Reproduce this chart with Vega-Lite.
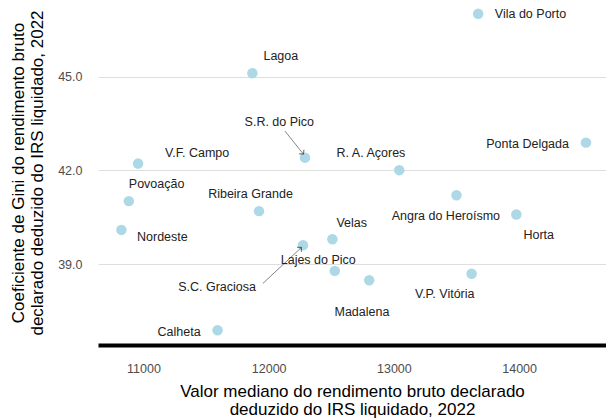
{
  "$schema": "https://vega.github.io/schema/vega-lite/v6.json",
  "width": 508,
  "height": 345,
  "autosize": {"type": "none"},
  "padding": {"left": 98, "top": 0, "right": 0, "bottom": 74},
  "background": "white",
  "config": {"view": {"stroke": null}, "font": "Liberation Sans"},
  "datasets": {
    "pts": [
      {"municipio": "Vila do Porto", "rend": 13673, "gini": 47.01, "lx": 14091, "ly": 46.99},
      {"municipio": "Lagoa", "rend": 11870, "gini": 45.11, "lx": 12097, "ly": 45.66},
      {"municipio": "S.R. do Pico", "rend": 12290, "gini": 42.41, "lx": 12085, "ly": 43.55},
      {"municipio": "V.F. Campo", "rend": 10957, "gini": 42.22, "lx": 11429, "ly": 42.55},
      {"municipio": "R. A. Açores", "rend": 13043, "gini": 42.01, "lx": 12817, "ly": 42.55},
      {"municipio": "Ponta Delgada", "rend": 14534, "gini": 42.89, "lx": 14068, "ly": 42.86},
      {"municipio": "Povoação", "rend": 10883, "gini": 41.02, "lx": 11105, "ly": 41.56},
      {"municipio": "Ribeira Grande", "rend": 11923, "gini": 40.70, "lx": 11855, "ly": 41.24},
      {"municipio": "Angra do Heroísmo", "rend": 13500, "gini": 41.21, "lx": 13415, "ly": 40.54},
      {"municipio": "Horta", "rend": 13978, "gini": 40.59, "lx": 14157, "ly": 39.94},
      {"municipio": "Nordeste", "rend": 10824, "gini": 40.10, "lx": 11151, "ly": 39.87},
      {"municipio": "Velas", "rend": 12509, "gini": 39.80, "lx": 12663, "ly": 40.33},
      {"municipio": "S.C. Graciosa", "rend": 12274, "gini": 39.61, "lx": 11588, "ly": 38.29},
      {"municipio": "Lajes do Pico", "rend": 12528, "gini": 38.79, "lx": 12396, "ly": 39.14},
      {"municipio": "Madalena", "rend": 12803, "gini": 38.49, "lx": 12745, "ly": 37.46},
      {"municipio": "V.P. Vitória", "rend": 13621, "gini": 38.70, "lx": 13406, "ly": 38.06},
      {"municipio": "Calheta", "rend": 11592, "gini": 36.89, "lx": 11285, "ly": 36.83}
    ],
    "arrows": [
      {"municipio": "S.R. do Pico", "ax": 12130, "ay": 43.26, "bx": 12278, "by": 42.52},
      {"municipio": "S.C. Graciosa", "ax": 11954, "ay": 38.39, "bx": 12262, "by": 39.54}
    ]
  },
  "layer": [
    {
      "data": {"name": "pts"},
      "mark": {"type": "circle", "size": 110, "color": "#ADD8E6", "opacity": 1},
      "encoding": {
        "x": {
          "field": "rend", "type": "quantitative",
          "scale": {"domain": [10637, 14694], "nice": false, "zero": false},
          "axis": {
            "title": ["Valor mediano do rendimento bruto declarado", "deduzido do IRS liquidado, 2022"],
            "values": [11000, 12000, 13000, 14000], "format": "d",
            "grid": false, "ticks": false,
            "domainColor": "black", "domainWidth": 4,
            "labelFontSize": 12.5, "labelColor": "#4d4d4d", "labelPadding": 17,
            "titleFontSize": 17, "titleFontWeight": "normal", "titleColor": "black",
            "titleLineHeight": 18, "titleY": 51.5, "titleX": 254, "titleBaseline": "alphabetic", "titleAlign": "center"
          }
        },
        "y": {
          "field": "gini", "type": "quantitative",
          "scale": {"domain": [36.42, 47.45], "nice": false, "zero": false},
          "axis": {
            "title": ["Coeficiente de Gini do rendimento bruto", "declarado deduzido do IRS liquidado, 2022"],
            "values": [39, 42, 45], "format": ".1f",
            "grid": true, "gridColor": "#dedede", "gridWidth": 1,
            "domain": false, "ticks": false,
            "labelFontSize": 12.5, "labelColor": "#4d4d4d", "labelPadding": 16,
            "titleFontSize": 17, "titleFontWeight": "normal", "titleColor": "black",
            "titleLineHeight": 18.5, "titleX": -74.5, "titleY": 172.5, "titleBaseline": "alphabetic", "titleAlign": "center"
          }
        }
      }
    },
    {
      "data": {"name": "arrows"},
      "mark": {"type": "rule", "color": "#333333", "strokeWidth": 0.6},
      "encoding": {
        "x": {"field": "ax", "type": "quantitative"},
        "y": {"field": "ay", "type": "quantitative"},
        "x2": {"field": "bx"},
        "y2": {"field": "by"}
      }
    },
    {
      "data": {"name": "arrows"},
      "transform": [{"filter": "datum.municipio === 'S.R. do Pico'"}],
      "mark": {"type": "point", "shape": "M -1 1 L 0 0 L 1 1", "filled": false, "size": 40, "color": "#333333", "strokeWidth": 0.7, "angle": 141, "opacity": 1},
      "encoding": {
        "x": {"field": "bx", "type": "quantitative"},
        "y": {"field": "by", "type": "quantitative"}
      }
    },
    {
      "data": {"name": "arrows"},
      "transform": [{"filter": "datum.municipio === 'S.C. Graciosa'"}],
      "mark": {"type": "point", "shape": "M -1 1 L 0 0 L 1 1", "filled": false, "size": 40, "color": "#333333", "strokeWidth": 0.7, "angle": 47, "opacity": 1},
      "encoding": {
        "x": {"field": "bx", "type": "quantitative"},
        "y": {"field": "by", "type": "quantitative"}
      }
    },
    {
      "data": {"name": "pts"},
      "mark": {"type": "text", "fontSize": 12.5, "color": "#222222", "align": "center", "baseline": "middle"},
      "encoding": {
        "x": {"field": "lx", "type": "quantitative"},
        "y": {"field": "ly", "type": "quantitative"},
        "text": {"field": "municipio"}
      }
    }
  ]
}
